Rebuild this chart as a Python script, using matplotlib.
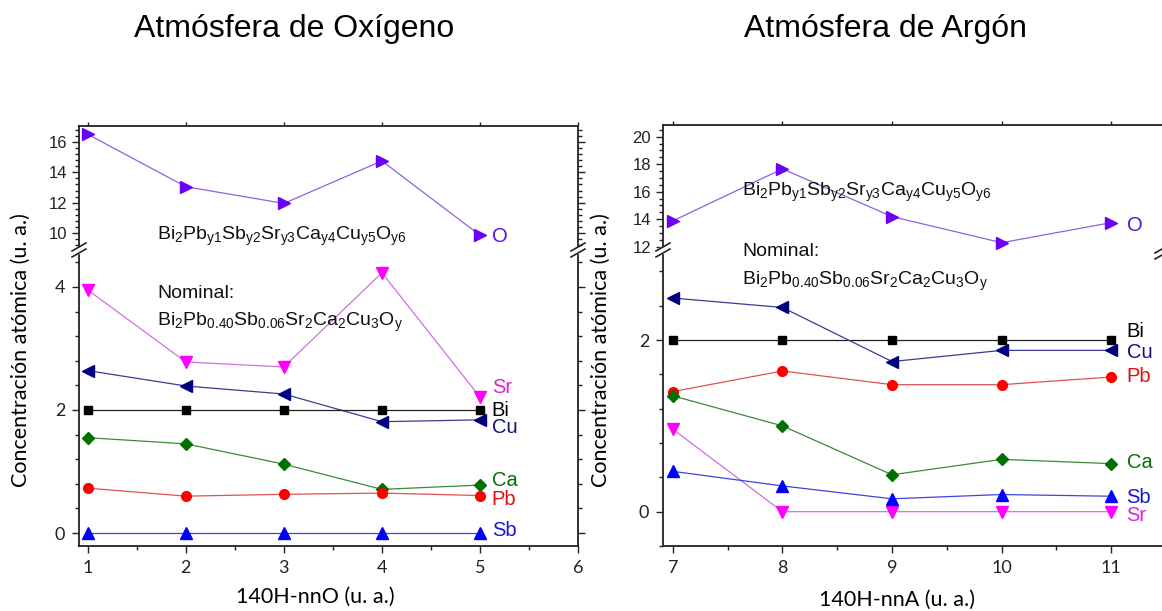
import matplotlib
matplotlib.use('Agg')
import matplotlib.pyplot as plt
from matplotlib.ticker import MultipleLocator, FixedLocator
from matplotlib.lines import Line2D
from matplotlib.patches import Rectangle

plt.rcParams['font.family'] = ['Liberation Sans', 'DejaVu Sans']
plt.rcParams['mathtext.fontset'] = 'custom'
plt.rcParams['mathtext.rm'] = 'Liberation Sans'
plt.rcParams['mathtext.it'] = 'Liberation Sans:italic'
plt.rcParams['mathtext.default'] = 'regular'

# ---------------- data ----------------
x_oxy = [1, 2, 3, 4, 5]
oxy_O = [16.5, 13.05, 11.95, 14.75, 9.85]
oxy_Sr = [3.95, 2.78, 2.70, 4.23, 2.21]
oxy_Cu = [2.64, 2.39, 2.26, 1.81, 1.84]
oxy_Bi = [2.0, 2.0, 2.0, 2.0, 2.0]
oxy_Ca = [1.55, 1.45, 1.12, 0.71, 0.78]
oxy_Pb = [0.73, 0.60, 0.63, 0.65, 0.61]
oxy_Sb = [0.0, 0.0, 0.0, 0.0, 0.0]

x_arg = [7, 8, 9, 10, 11]
arg_O = [13.88, 17.66, 14.19, 12.29, 13.75]
arg_Bi = [2.0, 2.0, 2.0, 2.0, 2.0]
arg_Cu = [2.49, 2.38, 1.75, 1.88, 1.88]
arg_Pb = [1.40, 1.64, 1.48, 1.48, 1.57]
arg_Ca = [1.35, 1.00, 0.43, 0.61, 0.56]
arg_Sr = [0.96, 0.0, 0.0, 0.0, 0.0]
arg_Sb = [0.47, 0.30, 0.15, 0.20, 0.18]

titles = ["Atmósfera de Oxígeno", "Atmósfera de Argón"]
xlabels = ["140H-nnO (u. a.)", "140H-nnA (u. a.)"]
ylabel = "Concentración atómica (u. a.)"
formula = r"Bi$_2$Pb$_{y1}$Sb$_{y2}$Sr$_{y3}$Ca$_{y4}$Cu$_{y5}$O$_{y6}$"
nominal = r"Bi$_2$Pb$_{0.40}$Sb$_{0.06}$Sr$_2$Ca$_2$Cu$_3$O$_y$"

# ---------------- styles ----------------
styles = {
    'O':  dict(marker='>', mc='#6a00f5', lc='#9060e0', tc='#5a10e0', ms=8),
    'Sr': dict(marker='v', mc='#ff00ff', lc='#d070e0', tc='#e020e0', ms=8),
    'Cu': dict(marker='<', mc='#000080', lc='#3c3c90', tc='#10107a', ms=8),
    'Bi': dict(marker='s', mc='#000000', lc='#202020', tc='#000000', ms=6),
    'Ca': dict(marker='D', mc='#007000', lc='#3a8a3a', tc='#0a6a0a', ms=6),
    'Pb': dict(marker='o', mc='#ff0000', lc='#e05050', tc='#e01010', ms=7),
    'Sb': dict(marker='^', mc='#0000ff', lc='#4040e0', tc='#1818d0', ms=8),
}

W, H = 1162, 611
fig = plt.figure(figsize=(W / 100, H / 100), dpi=100)
lab_font = ['Lato', 'DejaVu Sans']


def px_axes(x0, y0, x1, y1):
    return fig.add_axes([x0 / W, 1 - y1 / H, (x1 - x0) / W, (y1 - y0) / H])


def plot_series(ax, x, y, el):
    s = styles[el]
    ax.plot(x, y, color=s['lc'], lw=0.9, marker=s['marker'], ms=s['ms'],
            mfc=s['mc'], mec=s['mc'], zorder=3, clip_on=False)


def style_axes(ax, part, xlim, ylim, ymajor, yminor, xmajor, xminor):
    ax.set_xlim(*xlim)
    ax.set_ylim(*ylim)
    ax.yaxis.set_major_locator(FixedLocator(ymajor))
    ax.yaxis.set_minor_locator(MultipleLocator(yminor))
    ax.xaxis.set_major_locator(MultipleLocator(xmajor))
    ax.xaxis.set_minor_locator(MultipleLocator(xminor))
    for sp in ax.spines.values():
        sp.set_linewidth(1.3)
        sp.set_color('#222222')
    ax.tick_params(which='both', direction='out', left=True, right=True,
                   labelright=False, colors='#222222', width=1.0)
    ax.tick_params(which='major', length=5)
    ax.tick_params(which='minor', length=3)
    if part == 'upper':
        ax.spines['bottom'].set_visible(False)
        ax.tick_params(which='both', bottom=False, labelbottom=False,
                       top=True, labeltop=False)
        ax.tick_params(axis='x', which='major', length=3)
        ax.tick_params(axis='x', which='minor', length=0)
        ax.tick_params(axis='y', labelsize=12)
    else:
        ax.spines['top'].set_visible(False)
        ax.tick_params(which='both', top=False, bottom=True, labelbottom=True)
        ax.tick_params(axis='both', labelsize=13, pad=5)
        for lab in ax.get_xticklabels() + ax.get_yticklabels():
            lab.set_family(lab_font)


def break_mark(xp, yp):
    # white gap + two slanted strokes on a spine at pixel (xp, yp)
    fig.patches.append(Rectangle(((xp - 3) / W, 1 - (yp + 3) / H), 6 / W, 6 / H,
                                 transform=fig.transFigure, color='white',
                                 zorder=10))
    for dy in (-3, 3):
        fig.lines.append(Line2D([(xp - 7) / W, (xp + 7) / W],
                                [1 - (yp + dy + 4) / H, 1 - (yp + dy - 4) / H],
                                transform=fig.transFigure, color='#222222',
                                lw=1.2, zorder=11))


# ---------------- left panel (oxygen) ----------------
axU = px_axes(79, 126, 578, 250)
axL = px_axes(79, 250, 578, 546)
style_axes(axU, 'upper', (0.91, 6.0), (8.88, 17.05), [10, 12, 14, 16], 0.4, 1, 0.5)
style_axes(axL, 'lower', (0.91, 6.0), (-0.21, 4.6), [0, 2, 4], 0.4, 1, 0.5)

plot_series(axU, x_oxy, oxy_O, 'O')
for el, vals in [('Sr', oxy_Sr), ('Cu', oxy_Cu), ('Bi', oxy_Bi), ('Ca', oxy_Ca),
                 ('Pb', oxy_Pb), ('Sb', oxy_Sb)]:
    plot_series(axL, x_oxy, vals, el)

axU.text(5.12, 9.8, 'O', color=styles['O']['tc'], fontsize=14.5, va='center')
for el, yy in [('Sr', 2.37), ('Bi', 2.0), ('Cu', 1.71), ('Ca', 0.85),
               ('Pb', 0.54), ('Sb', 0.05)]:
    axL.text(5.12, yy, el, color=styles[el]['tc'], fontsize=14.5, va='center')

fig.text(157 / W, 1 - 236 / H, formula, fontsize=14, va='center',
         ha='left', color='#111111')
fig.text(157 / W, 1 - 293 / H, "Nominal:", fontsize=14, va='center',
         ha='left', color='#111111')
fig.text(157 / W, 1 - 322 / H, nominal, fontsize=14, va='center',
         ha='left', color='#111111')

break_mark(79, 250)
break_mark(578, 250)

# ---------------- right panel (argon) ----------------
bxU = px_axes(663, 125, 1166, 250)
bxL = px_axes(663, 250, 1166, 546)
style_axes(bxU, 'upper', (6.91, 11.5), (11.76, 20.85), [12, 14, 16, 18, 20], 0.5, 1, 0.5)
style_axes(bxL, 'lower', (6.91, 11.5), (-0.40, 3.05), [0, 2], 0.4, 1, 0.5)

plot_series(bxU, x_arg, arg_O, 'O')
for el, vals in [('Bi', arg_Bi), ('Cu', arg_Cu), ('Pb', arg_Pb), ('Ca', arg_Ca),
                 ('Sr', arg_Sr), ('Sb', arg_Sb)]:
    plot_series(bxL, x_arg, vals, el)

bxU.text(11.14, 13.55, 'O', color=styles['O']['tc'], fontsize=14.5, va='center')
for el, yy in [('Bi', 2.10), ('Cu', 1.85), ('Pb', 1.57), ('Ca', 0.57),
               ('Sb', 0.17), ('Sr', -0.04)]:
    bxL.text(11.14, yy, el, color=styles[el]['tc'], fontsize=14.5, va='center')

fig.text(742 / W, 1 - 192 / H, formula, fontsize=14, va='center',
         ha='left', color='#111111')
fig.text(742 / W, 1 - 252 / H, "Nominal:", fontsize=14, va='center',
         ha='left', color='#111111')
fig.text(742 / W, 1 - 281 / H, nominal, fontsize=14, va='center',
         ha='left', color='#111111')

break_mark(663, 250)
break_mark(1162, 252)

# ---------------- titles & labels ----------------
fig.text(294 / W, 1 - 37 / H, titles[0], fontsize=23, ha='center', va='baseline')
fig.text(885 / W, 1 - 37 / H, titles[1], fontsize=23, ha='center', va='baseline')

fig.text(315 / W, 1 - 597 / H, xlabels[0], fontsize=15.5, ha='center',
         va='center', family=lab_font)
fig.text(897 / W, 1 - 600 / H, xlabels[1], fontsize=15.5, ha='center',
         va='center', family=lab_font)
fig.text(21 / W, 1 - 350 / H, ylabel, fontsize=15.5, ha='center', va='center',
         rotation=90, family=lab_font)
fig.text(601 / W, 1 - 350 / H, ylabel, fontsize=15.5, ha='center', va='center',
         rotation=90, family=lab_font)

fig.savefig('out.png', dpi=100)
